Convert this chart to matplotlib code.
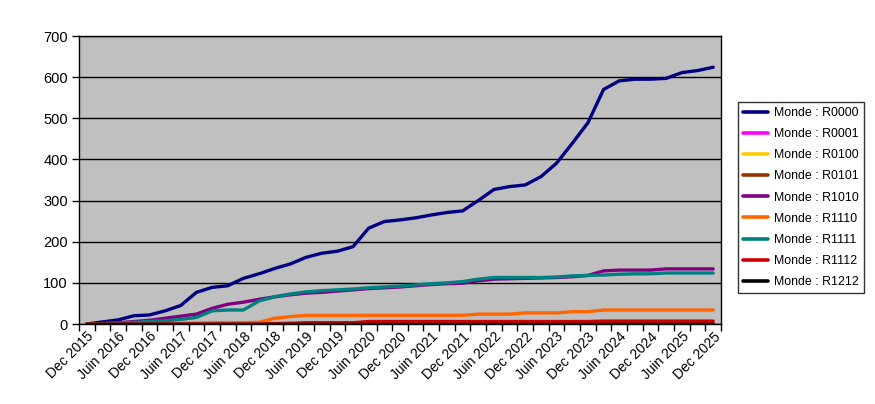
import matplotlib
matplotlib.use("Agg")
import matplotlib.pyplot as plt
import numpy as np

categories = ["Dec 2015", "Mars 2016", "Juin 2016", "Sept 2016", "Dec 2016", "Mars 2017",
              "Juin 2017", "Sept 2017", "Dec 2017", "Mars 2018", "Juin 2018", "Sept 2018",
              "Dec 2018", "Mars 2019", "Juin 2019", "Sept 2019", "Dec 2019", "Mars 2020",
              "Juin 2020", "Sept 2020", "Dec 2020", "Mars 2021", "Juin 2021", "Sept 2021",
              "Dec 2021", "Mars 2022", "Juin 2022", "Sept 2022", "Dec 2022", "Mars 2023",
              "Juin 2023", "Sept 2023", "Dec 2023", "Mars 2024", "Juin 2024", "Sept 2024",
              "Dec 2024", "Mars 2025", "Juin 2025", "Sept 2025", "Dec 2025"]

r0000 = [0, 5, 10, 20, 22, 32, 45, 77, 89, 93, 111, 122, 135, 146, 162, 172, 177, 188,
         233, 249, 253, 258, 265, 271, 275, 300, 327, 334, 338, 358, 391, 439, 489, 570,
         591, 595, 595, 597, 611, 616, 624]
r0001 = [0] * 41
r0100 = [0, 0, 0, 0, 0, 0, 1, 1, 1, 1, 1, 1, 1, 1, 1, 1, 1, 1, 1, 1, 1, 1, 1, 1, 1, 1,
         1, 1, 1, 1, 1, 1, 1, 1, 1, 1, 1, 1, 1, 1, 1]
r0101 = [0, 0, 0, 1, 1, 1, 1, 1, 1, 1, 1, 1, 1, 2, 2, 2, 2, 2, 2, 2, 2, 2, 2, 2, 2, 2,
         2, 2, 2, 2, 2, 2, 2, 2, 2, 2, 2, 2, 2, 2, 2]
r1010 = [0, 1, 3, 6, 9, 14, 19, 24, 38, 48, 53, 60, 66, 71, 75, 77, 80, 83, 86, 88, 90,
         93, 96, 98, 99, 105, 109, 110, 111, 112, 113, 115, 118, 129, 131, 131, 131, 134,
         134, 134, 134]
r1110 = [0, 0, 0, 0, 0, 0, 1, 2, 3, 3, 3, 4, 14, 18, 21, 21, 21, 21, 21, 21, 21, 21, 21,
         21, 21, 24, 24, 24, 27, 27, 27, 30, 30, 34, 34, 34, 34, 34, 34, 34, 34]
r1111 = [0, 1, 2, 4, 6, 8, 11, 16, 32, 34, 34, 56, 66, 73, 78, 81, 83, 85, 88, 90, 92, 95,
         98, 100, 103, 109, 113, 113, 113, 113, 114, 117, 118, 119, 121, 122, 122, 124,
         124, 124, 124]
r1112 = [0, 0, 0, 0, 0, 0, 0, 0, 0, 0, 0, 0, 0, 0, 3, 3, 3, 3, 6, 6, 6, 6, 6, 6, 6, 6,
         6, 6, 6, 6, 6, 6, 6, 7, 7, 7, 7, 7, 7, 7, 7]
r1212 = [0] * 41

series_names = ["Monde : R0000", "Monde : R0001", "Monde : R0100", "Monde : R0101",
                "Monde : R1010", "Monde : R1110", "Monde : R1111", "Monde : R1112",
                "Monde : R1212"]
series_values = [r0000, r0001, r0100, r0101, r1010, r1110, r1111, r1112, r1212]
series_colors = ["#000080", "#FF00FF", "#FFCC00", "#993300", "#800080", "#FF6600",
                 "#008080", "#CC0000", "#000000"]

plt.rcParams['font.family'] = ['Liberation Sans', 'DejaVu Sans']

fig = plt.figure(figsize=(8.75, 4.04), dpi=100)
ax = fig.add_axes([79 / 875, 1 - 324 / 404, (721 - 79) / 875, (324 - 36) / 404])
ax.set_facecolor("#C0C0C0")

n = len(categories)
x = np.arange(n)
for name, vals, col in zip(series_names, series_values, series_colors):
    ax.plot(x, vals, color=col, linewidth=2.4, label=name, solid_capstyle='round')

ax.set_xlim(-0.5, n - 0.5)
ax.set_ylim(0, 700)
ax.set_yticks(np.arange(0, 701, 100))
ax.yaxis.grid(True, color="black", linewidth=1)
ax.set_axisbelow(True)

ax.set_xticks(np.arange(-0.5, n, 1.0))
ax.set_xticklabels([])
ax.tick_params(axis='x', which='major', direction='out', length=5, width=1, color='black')
ax.set_xticks(x[::2], minor=True)
ax.set_xticklabels(categories[::2], minor=True, rotation=45, ha='right',
                   rotation_mode='anchor', fontsize=10)
ax.tick_params(axis='x', which='minor', length=0, pad=4)
ax.tick_params(axis='y', direction='out', length=5, width=1, labelsize=10.5, pad=3)

for s in ax.spines.values():
    s.set_color("black")
    s.set_linewidth(1)

leg = fig.legend(loc='upper left', bbox_to_anchor=(738 / 875, 1 - 102 / 404),
                 frameon=True, fancybox=False, fontsize=8.9, handlelength=2.0,
                 borderpad=0.4, labelspacing=0.74, handletextpad=0.55, borderaxespad=0)
leg.get_frame().set_edgecolor("black")
leg.get_frame().set_linewidth(1)
for line in leg.get_lines():
    line.set_linewidth(2.6)

fig.savefig("out.png", dpi=100)
